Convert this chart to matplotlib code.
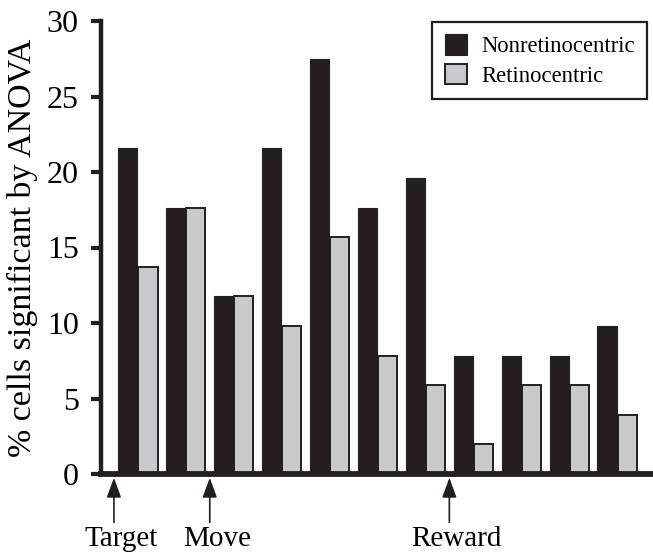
import numpy as np
import matplotlib.pyplot as plt

# percent of cells significant by ANOVA, per epoch
nonretino = [21.6, 17.6, 11.8, 21.6, 27.5, 17.6, 19.6, 7.8, 7.8, 7.8, 9.8]
retino = [13.7, 17.6, 11.8, 9.8, 15.7, 7.8, 5.9, 2.0, 5.9, 5.9, 3.9]
event_labels = ['Target', 'Move', 'Reward']
event_pos = [-0.5, 1.5, 6.5]

plt.rcParams['font.family'] = ['Liberation Serif', 'DejaVu Serif']

fig = plt.figure(figsize=(6.53, 5.53), dpi=100)
ax = fig.add_axes([101 / 653, 79 / 553, 1 - 101 / 653, 453 / 553])

x = np.arange(len(nonretino))
w = 0.4
ax.bar(x - 0.21, nonretino, w, color='#231f20', edgecolor='#231f20', linewidth=0.8,
       label='Nonretinocentric', zorder=2)
ax.bar(x + 0.21, retino, w, color='#c8c9cb', edgecolor='#231f20', linewidth=1.4,
       label='Retinocentric', zorder=2)

ax.set_xlim(-0.77, 10.75)
ax.set_ylim(0, 30)
ax.set_yticks(range(0, 31, 5))
ax.set_xticks([])
for s in ['top', 'right']:
    ax.spines[s].set_visible(False)
ax.spines['left'].set_linewidth(3.2)
ax.spines['bottom'].set_linewidth(4.2)
ax.spines['left'].set_color('#231f20')
ax.spines['bottom'].set_color('#231f20')
ax.spines['bottom'].set_zorder(3)
ax.tick_params(axis='y', length=7, width=3, color='#231f20', labelsize=23, pad=9)
ax.set_ylabel('% cells significant by ANOVA', fontsize=24.5, labelpad=6)

for lab, xp in zip(event_labels, event_pos):
    ax.annotate('', xy=(xp, -0.25), xytext=(xp, -3.2), xycoords='data',
                annotation_clip=False,
                arrowprops=dict(arrowstyle='-|>,head_length=0.6,head_width=0.22',
                                mutation_scale=20, color='#231f20', lw=1.2,
                                shrinkA=0, shrinkB=0))
    ax.text(xp + 0.15, -3.45, lab, ha='center', va='top', fontsize=21, clip_on=False)

leg = ax.legend(loc='upper right', bbox_to_anchor=(647 / 653, 1 - 22 / 553),
                bbox_transform=fig.transFigure, borderaxespad=0, fontsize=16.3,
                fancybox=False, edgecolor='#231f20', framealpha=1,
                handlelength=1.0, handleheight=1.0, handletextpad=0.6,
                borderpad=0.55, labelspacing=0.3)
leg.get_frame().set_linewidth(1.6)

fig.savefig('out.png', dpi=100)
